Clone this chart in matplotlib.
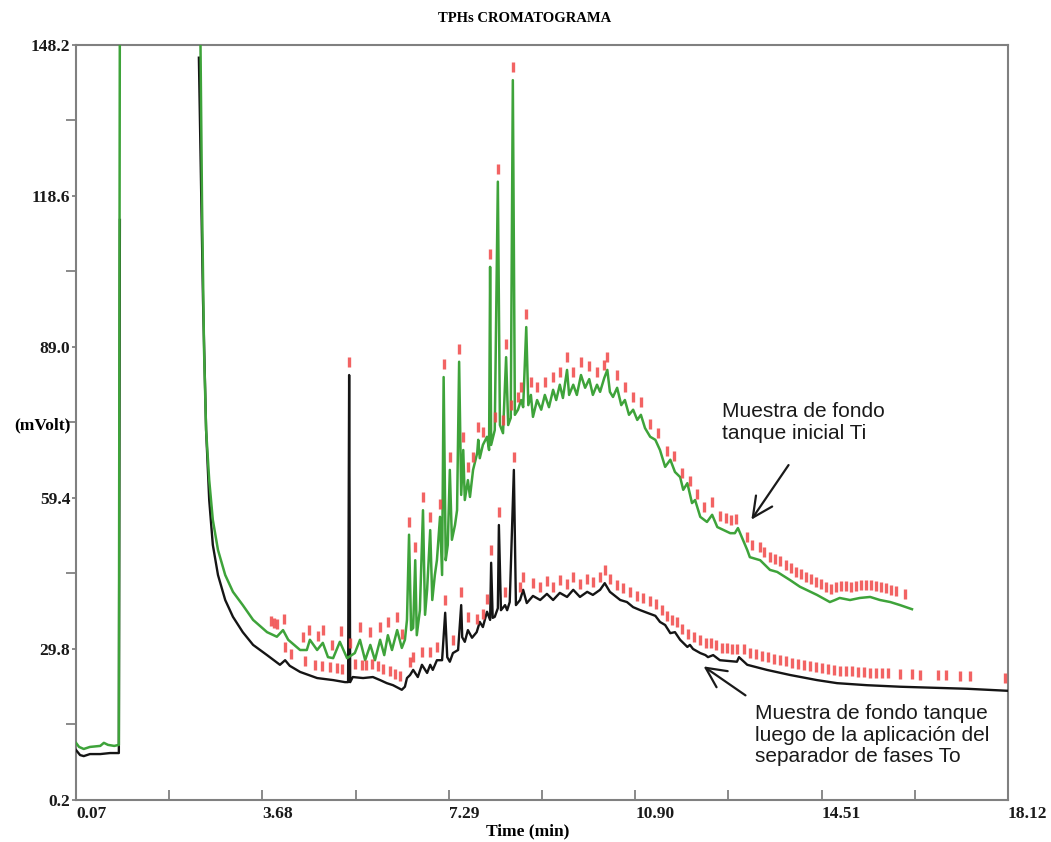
import numpy as np
import matplotlib
matplotlib.use("Agg")
import matplotlib.pyplot as plt

nan = np.nan

# Ti trace (initial tank bottom sample): retention time (min) and signal (mVolt)
t_ti = [0.07, 0.13, 0.22, 0.34, 0.54, 0.61, 0.69, 0.81, 0.90, 0.92, 2.47,
        2.51, 2.55, 2.59, 2.65, 2.72, 2.82, 2.96, 3.11, 3.30, 3.50,
        3.77, 3.96, 4.08, 4.18, 4.41, 4.54, 4.60, 4.74, 4.85, 4.95,
        5.05, 5.18, 5.32, 5.47, 5.57, 5.67, 5.77, 5.86, 5.96, 6.04,
        6.11, 6.19, 6.29, 6.38, 6.44, 6.48, 6.52, 6.56, 6.60, 6.64,
        6.67, 6.73, 6.79, 6.83, 6.87, 6.93, 6.97, 7.02, 7.06, 7.12,
        7.16, 7.19, 7.23, 7.27, 7.31, 7.35, 7.41, 7.45, 7.49, 7.53,
        7.57, 7.60, 7.66, 7.70, 7.76, 7.84, 7.86, 7.89, 7.95, 8.03,
        8.07, 8.09, 8.11, 8.18, 8.24, 8.28, 8.34, 8.40, 8.44, 8.49,
        8.53, 8.57, 8.63, 8.69, 8.73, 8.79, 8.83, 8.88, 8.92, 9.00,
        9.08, 9.15, 9.23, 9.31, 9.37, 9.44, 9.50, 9.58, 9.62, 9.70,
        9.77, 9.85, 9.93, 10.01, 10.08, 10.16, 10.22, 10.30, 10.36, 10.41,
        10.47, 10.55, 10.63, 10.70, 10.78, 10.86, 10.94, 11.01, 11.09, 11.19,
        11.29, 11.38, 11.48, 11.58, 11.67, 11.77, 11.83, 11.91, 12.00, 12.06,
        12.16, 12.29, 12.39, 12.49, 12.74, 12.83, 12.89, 13.07, 13.12, 13.32,
        13.51, 13.65, 13.90, 14.09, 14.42, 14.67, 14.77, 14.86, 15.06, 15.25,
        15.45, 15.64, 15.84, 16.03, 16.26]
v_ti = [11.4, 10.6, 10.2, 10.6, 10.8, 11.4, 11.0, 10.8, 11.0, 160, 160,
        117.8, 88.4, 72.7, 62.9, 55.1, 49.2, 44.3, 41.0, 38.4, 35.5,
        33.1, 32.2, 33.5, 31.6, 29.6, 29.6, 31.6, 29.6, 31.0, 28.2,
        28.0, 31.2, 28.0, 29.0, 31.6, 27.6, 30.6, 27.6, 31.6, 28.6,
        32.5, 29.6, 33.5, 30.0, 31.6, 35.5, 52.2, 33.5, 33.9, 47.2,
        32.5, 37.4, 57.0, 36.5, 41.4, 53.1, 39.4, 44.3, 47.2, 55.7,
        44.3, 83.1, 47.2, 50.2, 64.9, 51.2, 54.1, 57.0, 86.1, 60.0,
        68.8, 59.0, 62.9, 59.6, 64.9, 68.2, 70.8, 67.2, 69.8, 71.4,
        68.8, 104.7, 69.8, 72.7, 121.4, 73.7, 72.1, 87.0, 73.7, 75.1,
        141.3, 75.7, 76.7, 78.6, 77.2, 92.9, 77.6, 79.6, 75.3, 78.6,
        76.7, 79.6, 77.2, 80.6, 78.6, 81.6, 79.0, 84.5, 79.6, 81.6,
        79.6, 83.5, 81.0, 82.7, 79.6, 81.6, 80.2, 82.9, 84.5, 80.2,
        79.2, 81.0, 77.6, 78.6, 75.7, 76.7, 74.7, 75.7, 73.1, 71.4,
        70.8, 68.8, 65.5, 66.9, 64.5, 63.5, 61.0, 62.3, 58.4, 59.0,
        55.7, 54.7, 56.1, 53.7, 52.5, 52.5, 53.5, 49.2, 47.8, 47.2,
        45.3, 44.9, 43.3, 42.0, 40.4, 39.0, 39.4, 39.8, 39.4, 39.8,
        40.0, 39.4, 39.0, 38.4, 37.6]

# To trace (after the phase separator)
t_to = [0.07, 0.15, 0.22, 0.34, 0.54, 0.73, 0.90, 0.92, 0.93,
        2.45, 2.53, 2.59, 2.65, 2.72, 2.82, 2.96, 3.11, 3.30, 3.50,
        3.77, 4.02, 4.12, 4.21, 4.41, 4.74, 5.05, 5.28, 5.34, 5.36,
        5.38, 5.43, 5.63, 5.82, 5.96, 6.09, 6.21, 6.38, 6.44, 6.48,
        6.54, 6.60, 6.69, 6.77, 6.87, 6.93, 6.98, 7.06, 7.16, 7.22,
        7.26, 7.31, 7.37, 7.47, 7.53, 7.55, 7.60, 7.66, 7.74, 7.83,
        7.89, 7.95, 8.03, 8.09, 8.11, 8.14, 8.18, 8.24, 8.26, 8.30,
        8.38, 8.42, 8.47, 8.55, 8.59, 8.67, 8.73, 8.80, 8.92, 9.06,
        9.19, 9.31, 9.44, 9.58, 9.70, 9.83, 9.97, 10.08, 10.22, 10.31,
        10.41, 10.61, 10.74, 10.86, 11.00, 11.13, 11.29, 11.38, 11.48, 11.58,
        11.67, 11.77, 11.91, 11.96, 12.02, 12.16, 12.26, 12.31, 12.41, 12.54,
        12.87, 12.91, 13.07, 13.45, 13.90, 14.42, 14.81, 15.39, 16.03, 16.67,
        17.33, 18.12]
v_to = [10.0, 9.0, 8.8, 9.2, 9.2, 9.4, 9.4, 113.9, nan,
        145.7, 98.2, 72.7, 59.0, 50.2, 44.3, 39.4, 36.1, 33.1, 30.6,
        28.6, 26.7, 27.6, 26.5, 25.3, 24.1, 23.7, 23.3, 23.3, 83.5,
        23.3, 24.3, 24.1, 24.3, 23.7, 23.1, 22.7, 21.8, 22.4, 24.1,
        24.7, 25.7, 24.3, 26.7, 25.1, 26.7, 25.7, 27.6, 27.6, 36.9,
        28.2, 27.3, 29.0, 29.6, 38.4, 32.1, 31.2, 33.5, 32.0, 33.1,
        35.1, 34.1, 37.1, 35.5, 46.7, 35.9, 36.1, 37.8, 54.1, 37.4,
        38.4, 37.4, 39.0, 64.9, 38.4, 39.4, 41.4, 38.8, 40.2, 39.4,
        40.6, 39.4, 40.8, 40.0, 41.4, 40.0, 41.0, 40.4, 41.4, 42.7,
        41.0, 39.4, 39.0, 38.0, 37.4, 36.9, 36.3, 35.1, 34.5, 32.9,
        33.1, 31.6, 30.2, 30.6, 29.8, 29.0, 28.6, 28.2, 28.6, 27.6,
        27.3, 28.2, 26.7, 25.7, 24.7, 23.7, 23.1, 22.7, 22.4, 22.2,
        22.0, 21.6]

# retention times flagged as peaks by the integrator
peaks_ti = [3.85, 3.91, 3.96, 4.10, 4.47, 4.58, 4.76, 4.85, 5.03, 5.20,
            5.38, 5.57, 5.77, 5.96, 6.11, 6.29, 6.39, 6.52, 6.64, 6.79,
            6.93, 7.12, 7.19, 7.31, 7.49, 7.57, 7.66, 7.76, 7.86, 7.95,
            8.09, 8.18, 8.24, 8.34, 8.40, 8.49, 8.53, 8.63, 8.69, 8.79,
            8.88, 9.00, 9.15, 9.31, 9.44, 9.58, 9.70, 9.85, 10.01, 10.16,
            10.30, 10.36, 10.55, 10.70, 10.86, 11.01, 11.19, 11.34, 11.52, 11.65,
            11.81, 11.96, 12.10, 12.23, 12.39, 12.54, 12.66, 12.76, 12.85, 13.07,
            13.16, 13.32, 13.40, 13.51, 13.61, 13.71, 13.82, 13.92, 14.02, 14.11,
            14.21, 14.31, 14.40, 14.50, 14.60, 14.69, 14.79, 14.89, 14.98, 15.08,
            15.18, 15.28, 15.37, 15.47, 15.57, 15.66, 15.76, 15.86, 15.95, 16.13]
peaks_to = [4.12, 4.23, 4.51, 4.70, 4.83, 4.99, 5.13, 5.22, 5.36, 5.47,
            5.61, 5.69, 5.80, 5.92, 6.02, 6.15, 6.25, 6.35, 6.54, 6.60,
            6.77, 6.93, 7.06, 7.22, 7.37, 7.53, 7.66, 7.83, 7.95, 8.03,
            8.11, 8.26, 8.38, 8.55, 8.67, 8.73, 8.92, 9.06, 9.19, 9.31,
            9.44, 9.58, 9.70, 9.83, 9.97, 10.08, 10.22, 10.31, 10.41, 10.55,
            10.67, 10.80, 10.94, 11.05, 11.19, 11.30, 11.42, 11.52, 11.61, 11.71,
            11.81, 11.92, 12.04, 12.16, 12.27, 12.37, 12.47, 12.58, 12.68, 12.78,
            12.87, 13.01, 13.12, 13.24, 13.36, 13.47, 13.59, 13.71, 13.82, 13.94,
            14.06, 14.17, 14.29, 14.40, 14.52, 14.64, 14.75, 14.87, 14.99, 15.10,
            15.22, 15.33, 15.45, 15.57, 15.68, 15.80, 16.03, 16.26, 16.42, 16.77,
            16.92, 17.19, 17.39, 18.06]

x_ticks = [0.07, 3.68, 7.29, 10.90, 14.51, 18.12]
y_ticks = [0.2, 29.8, 59.4, 89.0, 118.6, 148.2]

serif = ["Liberation Serif", "DejaVu Serif"]
sans = ["Liberation Sans", "DejaVu Sans"]

fig = plt.figure(figsize=(10.51, 8.42), dpi=100)
ax = fig.add_axes([0.0723, 0.0499, 0.8868, 0.8967])

green = "#3ea33a"
ax.plot(t_to, v_to, color="#151515", lw=1.7, zorder=3)
ax.plot(t_ti, v_ti, color=green, lw=1.8, zorder=4)

# red peak flags sit just above the signal
off = 2.5
ax.plot(peaks_ti, np.interp(peaks_ti, t_ti, v_ti) + off, ls="none", marker="|",
        ms=7, mew=2.4, color="#f04848", alpha=0.85, zorder=5)
t_to_arr = np.array(t_to)
v_to_arr = np.array(v_to)
ok = ~np.isnan(v_to_arr)
ax.plot(peaks_to, np.interp(peaks_to, t_to_arr[ok], v_to_arr[ok]) + off, ls="none",
        marker="|", ms=7, mew=2.4, color="#f04848", alpha=0.85, zorder=5)

ax.set_xlim(0.07, 18.12)
ax.set_ylim(0.2, 148.2)

ax.set_xticks(x_ticks)
ax.set_xticklabels([f"{v:.2f}" for v in x_ticks], ha="left")
ax.set_xticks([(a + b) / 2 for a, b in zip(x_ticks[:-1], x_ticks[1:])], minor=True)
ax.set_yticks(y_ticks)
ax.set_yticklabels([f"{v:.1f}" for v in y_ticks])
ax.set_yticks([(a + b) / 2 for a, b in zip(y_ticks[:-1], y_ticks[1:])], minor=True)

ax.tick_params(axis="x", which="both", direction="in", length=7, width=1.2,
               color="#777777", pad=4)
ax.tick_params(axis="y", which="major", direction="out", length=3, width=1.2,
               color="#777777", pad=1)
ax.tick_params(axis="y", which="minor", direction="out", length=7, width=1.2,
               color="#777777")
for lab in ax.get_xticklabels() + ax.get_yticklabels():
    lab.set_family(serif)
    lab.set_weight("bold")
    lab.set_fontsize(12.5)
    lab.set_color("#1a1a1a")

for s in ax.spines.values():
    s.set_color("#808080")
    s.set_linewidth(1.5)

fig.text(0.4995, 0.9786, "TPHs CROMATOGRAMA", family=serif, weight="bold",
         fontsize=10.5, ha="center", va="center")
fig.text(0.502, 0.0131, "Time (min)", family=serif, weight="bold",
         fontsize=12.5, ha="center", va="center")
fig.text(0.040, 0.4952, "(mVolt)", family=serif, weight="bold",
         fontsize=12.5, ha="center", va="center")

arrow = dict(arrowstyle="->,head_length=0.45,head_width=0.22", lw=1.6,
             color="#1a1a1a", mutation_scale=32)
ax.text(12.58, 74.2, "Muestra de fondo\ntanque inicial Ti", family=sans,
        fontsize=15, ha="left", va="center", color="#1a1a1a", linespacing=1.15)
ax.annotate("", xy=(13.12, 54.7), xytext=(13.90, 66.3), arrowprops=arrow)
ax.text(13.22, 12.9, "Muestra de fondo tanque\nluego de la aplicación del\nseparador de fases To",
        family=sans, fontsize=15, ha="left", va="center", color="#1a1a1a",
        linespacing=1.15)
ax.annotate("", xy=(12.18, 26.7), xytext=(13.08, 20.4), arrowprops=arrow)

fig.savefig("out.png", dpi=100)
